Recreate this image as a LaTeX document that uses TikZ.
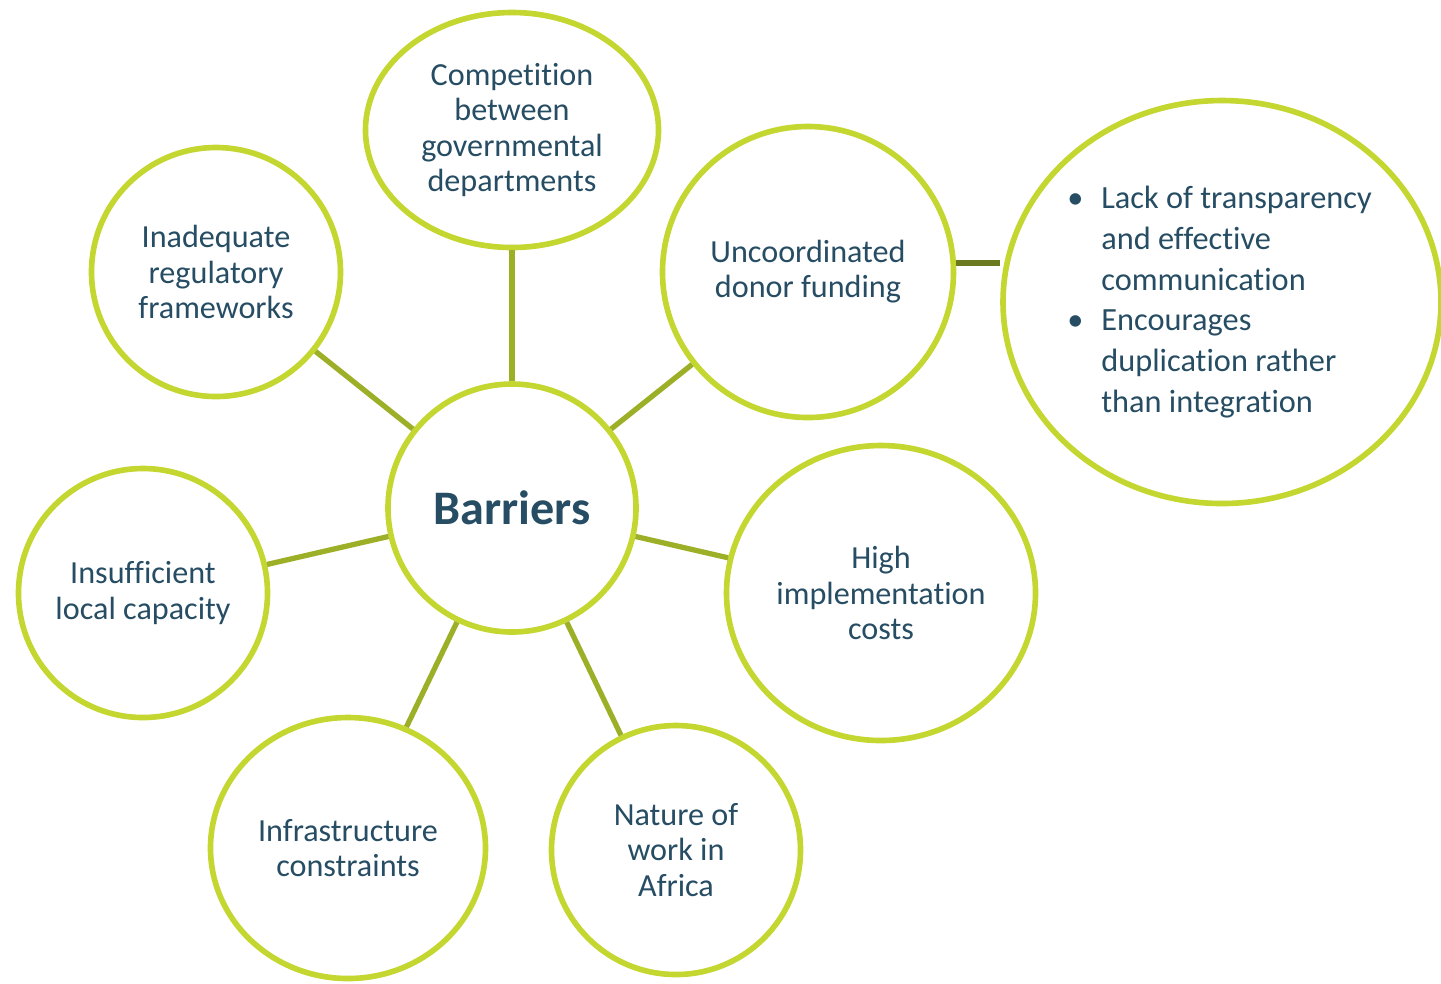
\documentclass[tikz,border=0pt]{standalone}
\usepackage{fontspec}
\setmainfont[Ligatures=NoCommon]{Carlito}
\usepackage{xcolor}
\usetikzlibrary{shapes.geometric,positioning}
\definecolor{lime}{HTML}{C4D630}
\definecolor{olive}{HTML}{9DAF26}
\definecolor{darkolive}{HTML}{6B7A1E}
\definecolor{ink}{HTML}{264D63}
\newcommand{\itembullet}{\makebox[0.34cm][l]{\textbullet}}
\newcommand{\itemgap}{\makebox[0.34cm][l]{}}

\begin{document}
\begin{tikzpicture}[
  every node/.style={text=ink,font=\fontsize{9.15}{10}\selectfont},
  barrier/.style={ellipse,draw=lime,line width=1.6pt,fill=white,
                  inner sep=0pt,align=center},
  link/.style={draw=olive,line width=1.5pt},
]
  \useasboundingbox (0,0) rectangle (14.41,-9.83);

  \node[barrier, minimum width=2.48cm, minimum height=2.48cm,
        font=\fontsize{13.7}{15}\selectfont\bfseries] (barriers) at (5.12,-5.08) {Barriers};

  \node[barrier, minimum width=2.93cm, minimum height=2.35cm] (competition) at (5.12,-1.30)
    {Competition\\between\\governmental\\departments};
  \node[barrier, minimum width=2.49cm, minimum height=2.49cm] (regulatory) at (2.16,-2.72)
    {Inadequate\\regulatory\\frameworks};
  \node[barrier, minimum width=2.91cm, minimum height=2.91cm] (donor) at (8.08,-2.72)
    {Uncoordinated\\donor funding};
  \node[barrier, minimum width=2.49cm, minimum height=2.49cm] (capacity) at (1.43,-5.93)
    {Insufficient\\local capacity};
  \node[barrier, minimum width=3.09cm, minimum height=2.95cm] (costs) at (8.81,-5.93)
    {High\\implementation\\costs};
  \node[barrier, minimum width=2.75cm, minimum height=2.61cm] (infrastructure) at (3.48,-8.48)
    {Infrastructure\\constraints};
  \node[barrier, minimum width=2.49cm, minimum height=2.49cm] (africa) at (6.76,-8.50)
    {Nature of\\work in\\Africa};

  % details on donor funding
  \node[barrier, minimum width=4.38cm, minimum height=4.03cm, align=left,
        font=\fontsize{9.2}{11.6}\selectfont] (donordetail) at (12.22,-3.02)
    {\hspace*{-0.05cm}\itembullet Lack of transparency\\
     \hspace*{-0.05cm}\itemgap and effective\\
     \hspace*{-0.05cm}\itemgap communication\\
     \hspace*{-0.05cm}\itembullet Encourages\\
     \hspace*{-0.05cm}\itemgap duplication rather\\
     \hspace*{-0.05cm}\itemgap than integration};

  \foreach \n in {competition,regulatory,donor,capacity,costs,infrastructure,africa}
    \draw[link] (barriers) -- (\n);
  \draw[link, draw=darkolive] (donor.east |- 0,-2.63) -- (donordetail.west |- 0,-2.63);
\end{tikzpicture}
\end{document}
